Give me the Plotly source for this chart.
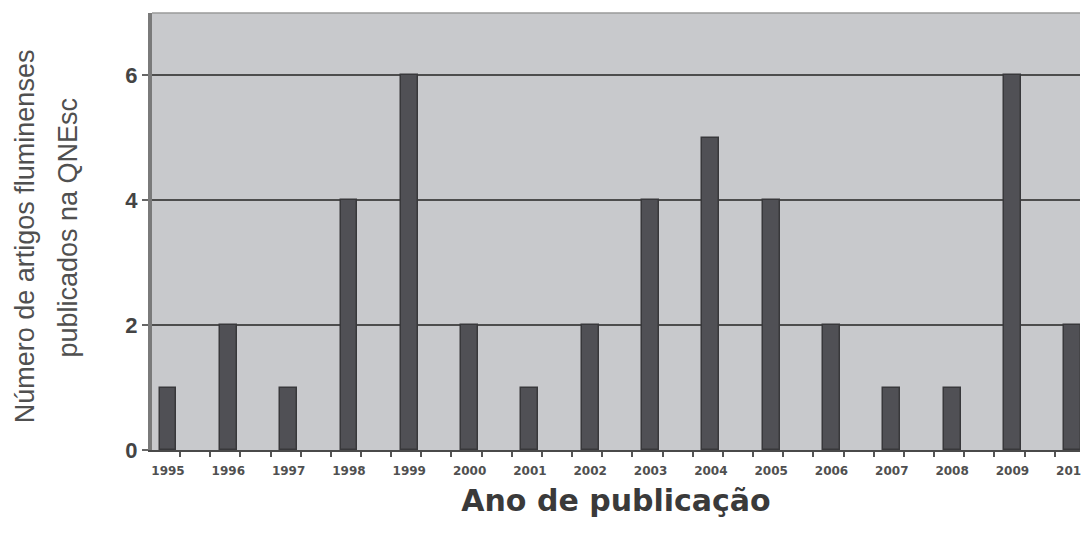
import plotly.graph_objects as go

years = [1995, 1996, 1997, 1998, 1999, 2000, 2001, 2002, 2003, 2004, 2005, 2006, 2007, 2008, 2009, 2010]
counts = [1, 2, 1, 4, 6, 2, 1, 2, 4, 5, 4, 2, 1, 1, 6, 2]
tick_labels = [str(y) for y in years]
y_ticks = [0, 2, 4, 6]
y_title_lines = ["Número de artigos fluminenses", "publicados na QNEsc"]

fig = go.Figure()
fig.add_trace(go.Bar(
    x=years, y=counts, width=0.28,
    marker=dict(color="#505055", line=dict(color="#38383b", width=1.5)),
    showlegend=False,
))

fig.update_layout(
    width=1081, height=529,
    margin=dict(l=144, r=0, t=5, b=87),
    paper_bgcolor="white",
    plot_bgcolor="#c8c9cc",
    bargap=0,
    xaxis=dict(
        range=[1994.735, 2010.12],
        tickvals=years, ticktext=tick_labels,
        ticks="", showgrid=False,
        ticklabeloverflow="allow",
        ticklabelstandoff=9,
        tickfont=dict(family="DejaVu Sans", size=12, color="#505050", weight="bold"),
        showline=True, linecolor="#4a4a4a", linewidth=2,
        minor=dict(ticks="outside", tick0=1994.7, dtick=0.5, ticklen=5, tickcolor="#555", tickwidth=1.5),
        title=dict(text="Ano de publicação", standoff=13,
                   font=dict(family="DejaVu Sans", size=30, color="#3a3a3a", weight="bold")),
        fixedrange=True,
    ),
    yaxis=dict(
        range=[0, 7],
        tickvals=y_ticks,
        ticks="outside", ticklen=6, tickcolor="#666", tickwidth=1.5,
        tickfont=dict(family="Liberation Sans", size=22, color="#444", weight="bold"),
        showgrid=True, gridcolor="#4d4d4d", gridwidth=2,
        zeroline=False,
        showline=True, linecolor="#7a7a7a", linewidth=4,
    ),
)
# y-axis title as two rotated lines
fig.add_annotation(text=y_title_lines[0], xref="paper", yref="paper",
                   x=-0.1375, y=0.49, xanchor="center", yanchor="middle",
                   textangle=-90, showarrow=False,
                   font=dict(family="Liberation Sans", size=27, color="#505050"))
fig.add_annotation(text=y_title_lines[1], xref="paper", yref="paper",
                   x=-0.09, y=0.51, xanchor="center", yanchor="middle",
                   textangle=-90, showarrow=False,
                   font=dict(family="Liberation Sans", size=27, color="#505050"))
fig.add_shape(type="line", xref="paper", yref="paper", x0=0, x1=1, y0=1, y1=1,
              line=dict(color="#9a9a9a", width=1.5))

fig.write_html("out.html")
